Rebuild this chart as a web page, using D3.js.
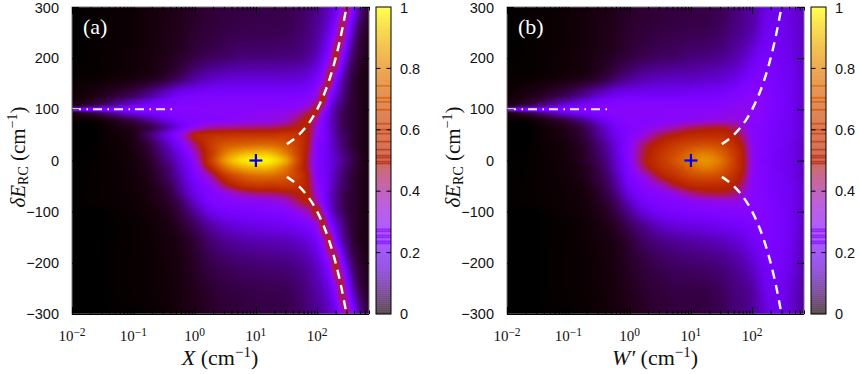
<!DOCTYPE html>
<html>
<head>
<meta charset="utf-8">
<script src="https://cdn.jsdelivr.net/npm/d3@7"></script>
<style>
  html, body { margin: 0; background: #fff; }
  svg { display: block; font-family: "Liberation Serif", serif; }
  text { fill: #111; }
</style>
</head>
<body>
<div id="chart"></div>
<script>
// Grid the maps were read on: log10 of X (or W') across, delta E_RC down.
const xExponents = [-2, -1.5, -1, -0.7, -0.4, -0.2, 0, 0.25, 0.5, 0.75, 1, 1.25, 1.5, 1.7, 1.85, 2, 2.1, 2.2, 2.3, 2.4, 2.5, 2.6, 2.7, 2.85];
const deltaRows = [316, 251, 200, 158, 126, 112, 106, 100, 94, 89, 79, 65, 50, 30, 15, 0, -15, -30, -50, -65, -79, -100, -126, -158, -200, -251, -316];

const valuesA = [
  [.000,.001,.003,.006,.012,.018,.025,.032,.038,.042,.045,.045,.048,.055,.07,.09,.105,.13,.16,.26,.46,.27,.12,.04],
  [.000,.001,.003,.007,.014,.02,.03,.038,.045,.05,.052,.052,.055,.065,.08,.105,.135,.19,.30,.48,.28,.12,.05,.02],
  [.000,.001,.004,.009,.018,.03,.045,.06,.07,.08,.082,.082,.085,.09,.105,.14,.20,.31,.50,.29,.13,.06,.03,.015],
  [.001,.003,.01,.02,.045,.075,.11,.14,.155,.16,.16,.16,.16,.165,.18,.23,.33,.50,.28,.14,.07,.035,.018,.01],
  [.003,.02,.06,.11,.18,.22,.23,.24,.24,.24,.24,.24,.24,.24,.26,.34,.50,.30,.17,.10,.055,.03,.018,.01],
  [.008,.05,.14,.20,.24,.25,.26,.27,.27,.27,.27,.27,.27,.28,.31,.42,.47,.25,.13,.08,.05,.03,.018,.01],
  [.03,.10,.20,.24,.26,.27,.27,.27,.27,.27,.27,.27,.27,.29,.34,.47,.42,.21,.12,.07,.04,.03,.018,.01],
  [.22,.25,.27,.28,.28,.28,.28,.28,.28,.28,.28,.29,.30,.33,.39,.50,.36,.19,.11,.07,.04,.03,.018,.01],
  [.03,.10,.20,.24,.26,.27,.27,.28,.28,.28,.29,.30,.31,.36,.44,.48,.31,.18,.10,.06,.04,.03,.018,.01],
  [.008,.04,.13,.19,.24,.26,.27,.27,.28,.28,.30,.31,.33,.39,.48,.45,.28,.17,.10,.06,.04,.03,.018,.01],
  [.001,.008,.05,.11,.19,.24,.26,.27,.28,.30,.31,.32,.36,.45,.50,.38,.25,.16,.10,.06,.04,.03,.018,.01],
  [.000,.002,.02,.05,.13,.22,.31,.38,.40,.41,.42,.43,.46,.50,.50,.33,.24,.16,.10,.06,.04,.03,.018,.01],
  [.000,.001,.015,.08,.20,.33,.50,.56,.58,.59,.59,.59,.60,.57,.49,.31,.24,.17,.11,.07,.05,.03,.018,.01],
  [.000,.001,.01,.05,.15,.26,.42,.60,.70,.73,.75,.75,.70,.61,.48,.27,.23,.17,.12,.08,.05,.03,.018,.01],
  [.000,.001,.008,.04,.12,.21,.36,.58,.78,.87,.90,.89,.78,.62,.46,.26,.22,.18,.13,.09,.06,.04,.02,.01],
  [.000,.001,.007,.03,.10,.18,.31,.60,.84,.95,.985,.97,.86,.64,.44,.26,.22,.18,.14,.10,.07,.04,.025,.012],
  [.000,.001,.006,.025,.08,.16,.27,.51,.74,.85,.89,.88,.77,.60,.45,.26,.22,.18,.13,.09,.06,.04,.02,.01],
  [.000,.001,.005,.02,.07,.14,.24,.38,.59,.70,.75,.75,.70,.61,.48,.27,.23,.17,.12,.08,.05,.03,.018,.01],
  [.000,.001,.004,.015,.05,.12,.20,.29,.44,.55,.59,.59,.60,.57,.49,.31,.24,.17,.11,.07,.05,.03,.018,.01],
  [.000,.001,.003,.012,.04,.10,.18,.25,.31,.38,.42,.43,.46,.50,.50,.33,.24,.16,.10,.06,.04,.03,.018,.01],
  [.000,.001,.003,.01,.03,.07,.15,.24,.27,.29,.30,.32,.36,.45,.50,.38,.25,.16,.10,.06,.04,.03,.018,.01],
  [.000,.000,.002,.006,.02,.05,.10,.18,.22,.23,.24,.25,.27,.32,.38,.50,.36,.19,.11,.07,.04,.03,.018,.01],
  [.000,.000,.001,.004,.012,.03,.06,.11,.15,.17,.18,.19,.20,.22,.25,.33,.50,.30,.17,.10,.055,.03,.018,.01],
  [.000,.000,.001,.003,.008,.016,.035,.07,.095,.11,.12,.125,.13,.145,.17,.22,.33,.50,.28,.14,.07,.035,.018,.01],
  [.000,.000,.001,.002,.006,.012,.025,.045,.06,.07,.075,.08,.085,.095,.115,.15,.21,.31,.50,.29,.13,.06,.03,.015],
  [.000,.000,.001,.002,.005,.01,.018,.03,.04,.045,.05,.052,.055,.07,.09,.115,.14,.19,.30,.48,.28,.12,.05,.02],
  [.000,.000,.000,.001,.004,.008,.014,.022,.03,.035,.04,.042,.045,.055,.075,.095,.11,.13,.16,.26,.46,.27,.12,.04]
];

const valuesB = [
  [.000,.001,.003,.006,.012,.018,.025,.03,.035,.038,.04,.042,.05,.07,.09,.11,.13,.16,.18,.18,.18,.17,.15,.13],
  [.000,.001,.003,.007,.014,.02,.03,.036,.042,.046,.05,.052,.065,.085,.10,.12,.15,.19,.20,.20,.19,.18,.16,.14],
  [.000,.001,.004,.009,.018,.03,.042,.055,.065,.07,.08,.085,.095,.115,.14,.18,.21,.22,.22,.21,.20,.19,.17,.14],
  [.001,.003,.01,.02,.045,.075,.10,.125,.135,.14,.14,.15,.16,.18,.21,.24,.25,.25,.24,.22,.21,.20,.18,.15],
  [.003,.02,.06,.11,.17,.20,.21,.21,.21,.21,.22,.22,.23,.25,.27,.28,.28,.27,.25,.23,.22,.20,.18,.15],
  [.008,.05,.14,.20,.25,.26,.26,.26,.26,.26,.26,.26,.27,.28,.29,.30,.29,.27,.25,.23,.22,.20,.18,.15],
  [.03,.10,.20,.24,.27,.27,.27,.27,.27,.27,.27,.27,.28,.29,.30,.30,.29,.27,.25,.23,.22,.20,.18,.15],
  [.22,.25,.27,.28,.28,.28,.28,.28,.28,.28,.28,.28,.29,.30,.31,.30,.29,.27,.25,.23,.22,.20,.18,.15],
  [.03,.10,.20,.24,.27,.28,.28,.28,.28,.28,.29,.29,.30,.31,.32,.30,.29,.27,.25,.23,.22,.20,.18,.15],
  [.008,.04,.13,.19,.25,.27,.28,.28,.28,.29,.29,.30,.31,.32,.31,.30,.28,.26,.25,.23,.22,.20,.18,.15],
  [.001,.008,.05,.11,.20,.25,.27,.27,.28,.29,.30,.32,.33,.34,.32,.29,.28,.26,.24,.23,.21,.20,.18,.15],
  [.000,.002,.02,.06,.15,.22,.26,.29,.33,.38,.43,.46,.47,.43,.35,.28,.27,.25,.24,.22,.21,.20,.18,.15],
  [.000,.001,.015,.05,.13,.20,.26,.34,.44,.50,.54,.55,.55,.50,.41,.29,.27,.25,.23,.22,.21,.20,.18,.15],
  [.000,.001,.01,.035,.10,.18,.28,.44,.54,.61,.66,.68,.65,.57,.47,.31,.27,.25,.23,.22,.21,.19,.17,.14],
  [.000,.001,.008,.03,.09,.17,.29,.47,.58,.66,.74,.78,.72,.61,.50,.32,.27,.25,.23,.21,.20,.19,.17,.14],
  [.000,.001,.007,.03,.08,.16,.28,.48,.59,.69,.78,.83,.76,.63,.50,.33,.26,.24,.22,.21,.20,.19,.17,.14],
  [.000,.001,.006,.02,.07,.15,.26,.44,.56,.64,.73,.78,.72,.61,.50,.32,.27,.25,.23,.21,.20,.19,.17,.14],
  [.000,.001,.005,.02,.06,.13,.24,.34,.49,.58,.65,.68,.65,.57,.47,.31,.27,.25,.23,.22,.21,.19,.17,.14],
  [.000,.001,.004,.012,.05,.11,.21,.28,.35,.46,.53,.55,.54,.50,.41,.29,.27,.25,.23,.22,.21,.20,.18,.15],
  [.000,.001,.003,.01,.04,.09,.18,.25,.28,.33,.41,.45,.46,.43,.35,.28,.27,.25,.24,.22,.21,.20,.18,.15],
  [.000,.001,.003,.008,.03,.07,.14,.22,.25,.27,.30,.32,.33,.33,.31,.28,.27,.26,.24,.23,.21,.20,.18,.15],
  [.000,.000,.002,.006,.02,.05,.10,.17,.21,.23,.24,.25,.26,.27,.27,.27,.27,.26,.25,.23,.22,.20,.18,.15],
  [.000,.000,.001,.004,.012,.03,.06,.10,.14,.165,.175,.185,.20,.21,.22,.24,.25,.25,.24,.23,.22,.20,.18,.14],
  [.000,.000,.001,.003,.008,.016,.035,.065,.085,.10,.11,.12,.13,.15,.17,.20,.22,.24,.24,.23,.22,.20,.17,.13],
  [.000,.000,.001,.002,.006,.012,.025,.04,.055,.065,.07,.075,.085,.10,.12,.15,.18,.21,.22,.22,.21,.19,.16,.12],
  [.000,.000,.001,.002,.005,.01,.018,.03,.038,.045,.045,.048,.06,.08,.09,.11,.14,.18,.20,.20,.19,.17,.14,.11],
  [.000,.000,.000,.001,.004,.008,.014,.022,.03,.035,.036,.04,.05,.07,.08,.10,.12,.15,.18,.19,.18,.16,.13,.10]
];

// Overlay curves and the marked point, same in both panels.
const curveDelta = [32, 40, 50, 63, 80, 100, 126, 158, 200, 251, 296];
const curveX = [32, 40, 50, 63, 80, 100, 126, 158, 200, 251, 296];
const stateX = [0.01, 0.5];
const stateDelta = [100, 100];
const pointX = 10;
const pointDelta = 0;

const xDecades = [0.01, 0.1, 1, 10, 100];
const yTicks = [-300, -200, -100, 0, 100, 200, 300];
const barTicks = [0, 0.2, 0.4, 0.6, 0.8, 1];
// levels where the colour bar looks more saturated in the original
const barStripes = [0.225, 0.235, 0.245, 0.255, 0.265, 0.275, 0.485, 0.495, 0.505, 0.515, 0.53, 0.56, 0.585, 0.6, 0.615, 0.66, 0.69, 0.7, 0.74];

const width = 859;
const height = 374;
const marginTop = 7;
const marginBottom = 60;
const plotWidth = 297;
const xMax = 700;

// gnuplot's default pm3d palette (rgbformulae 7,5,15)
function palette(t) {
  const b = Math.max(0, Math.sin(2 * Math.PI * t));
  return d3.rgb(255 * Math.sqrt(t), 255 * t * t * t, 255 * b);
}

const svg = d3.select("#chart").append("svg")
  .attr("width", width)
  .attr("height", height)
  .attr("viewBox", [0, 0, width, height]);

const y = d3.scaleLinear().domain([-300, 300]).range([height - marginBottom, marginTop]);
const colIndex = d3.scaleLinear().domain(xExponents).range(d3.range(xExponents.length));
const rowIndex = d3.scaleLinear().domain(deltaRows).range(d3.range(deltaRows.length));

// Catmull-Rom so the map comes out smooth like the original's interpolated pm3d.
function cubic(p0, p1, p2, p3, t) {
  return p1 + 0.5 * t * (p2 - p0 + t * (2 * p0 - 5 * p1 + 4 * p2 - p3 + t * (3 * (p1 - p2) + p3 - p0)));
}

function sampleGrid(grid, fx, fy) {
  const ix = Math.min(Math.floor(fx), xExponents.length - 2);
  const iy = Math.min(Math.floor(fy), deltaRows.length - 2);
  const at = (r, c) => grid[Math.max(0, Math.min(grid.length - 1, r))][Math.max(0, Math.min(xExponents.length - 1, c))];
  const rows = [-1, 0, 1, 2].map(dr =>
    cubic(at(iy + dr, ix - 1), at(iy + dr, ix), at(iy + dr, ix + 1), at(iy + dr, ix + 2), fx - ix));
  return Math.max(0, Math.min(1, cubic(rows[0], rows[1], rows[2], rows[3], fy - iy)));
}

function mapImage(grid, x, left) {
  const h = height - marginBottom - marginTop;
  const canvas = document.createElement("canvas");
  canvas.width = plotWidth;
  canvas.height = h;
  const ctx = canvas.getContext("2d");
  const img = ctx.createImageData(plotWidth, h);
  for (let j = 0; j < h; j++) {
    for (let i = 0; i < plotWidth; i++) {
      const fx = colIndex(Math.log10(x.invert(left + i + 0.5)));
      const fy = rowIndex(y.invert(marginTop + j + 0.5));
      const c = palette(sampleGrid(grid, fx, fy));
      const k = 4 * (j * plotWidth + i);
      img.data[k] = c.r;
      img.data[k + 1] = c.g;
      img.data[k + 2] = c.b;
      img.data[k + 3] = 255;
    }
  }
  ctx.putImageData(img, 0, 0);
  return canvas.toDataURL();
}

function axisLabel(g, px, py, anchor, size, rotate, parts) {
  const t = g.append("text")
    .attr("text-anchor", anchor)
    .attr("font-size", size)
    .attr("transform", `translate(${px},${py})` + (rotate ? " rotate(-90)" : ""));
  parts.forEach(p => {
    const s = t.append("tspan").text(p.text);
    if (p.italic) s.attr("font-style", "italic");
    if (p.dy) s.attr("dy", p.dy);
    if (p.size) s.attr("font-size", p.size);
  });
}

const cmUnit = [
  { text: " (cm" },
  { text: "\u22121", dy: -8, size: 15 },
  { text: ")", dy: 8 }
];

// the top labels would poke out of the window, so nudge them down a little
function nudgeTop(a, topValue) {
  a.selectAll(".tick").filter(d => d === topValue).select("text").attr("y", 1.3);
}

function drawPanel(left, grid, tag, xParts) {
  const right = left + plotWidth;
  const bottom = height - marginBottom;
  const x = d3.scaleLog().domain([0.01, xMax]).range([left, right]);
  const g = svg.append("g");

  g.append("image")
    .attr("x", left)
    .attr("y", marginTop)
    .attr("width", plotWidth)
    .attr("height", bottom - marginTop)
    .attr("href", mapImage(grid, x, left));

  // Overlays: dash-dotted line at 100, dashed branches, blue cross.
  const stateLine = d3.line().x((d, i) => x(stateX[i])).y((d, i) => y(stateDelta[i]));
  g.append("path")
    .attr("d", stateLine(stateX))
    .attr("fill", "none")
    .attr("stroke", "#f6eeff")
    .attr("stroke-width", 2)
    .attr("stroke-dasharray", "9 5.5 1.5 5");

  [1, -1].forEach(sign => {
    const branch = d3.line().curve(d3.curveCatmullRom)
      .x((d, i) => x(curveX[i]))
      .y((d, i) => y(sign * curveDelta[i]));
    g.append("path")
      .attr("d", branch(curveX))
      .attr("fill", "none")
      .attr("stroke", "#fff")
      .attr("stroke-width", 2.4)
      .attr("stroke-dasharray", "9 6.5");
  });

  g.append("g")
    .attr("stroke", "#0000f0")
    .attr("stroke-width", 2.2)
    .call(s => s.append("line")
      .attr("x1", x(pointX) - 6.5).attr("x2", x(pointX) + 6.5)
      .attr("y1", y(pointDelta)).attr("y2", y(pointDelta)))
    .call(s => s.append("line")
      .attr("x1", x(pointX)).attr("x2", x(pointX))
      .attr("y1", y(pointDelta) - 6.5).attr("y2", y(pointDelta) + 6.5));

  // Frame
  g.append("rect")
    .attr("x", left)
    .attr("y", marginTop)
    .attr("width", plotWidth)
    .attr("height", bottom - marginTop)
    .attr("fill", "none")
    .attr("stroke", "#777");
  g.append("line")
    .attr("x1", left).attr("x2", right)
    .attr("y1", bottom + 0.5).attr("y2", bottom + 0.5)
    .attr("stroke", "#000");

  // Ticks, drawn pointing into the map on all four sides.
  const minor = x.ticks().filter(d => !xDecades.includes(d));
  [[d3.axisBottom, bottom], [d3.axisTop, marginTop]].forEach(([axis, pos]) => {
    g.append("g").attr("transform", `translate(0,${pos})`)
      .call(axis(x).tickValues(minor).tickSize(-3.5).tickFormat(""))
      .call(a => a.select(".domain").remove());
    g.append("g").attr("transform", `translate(0,${pos})`)
      .call(axis(x).tickValues(xDecades).tickSize(-7).tickFormat(""))
      .call(a => a.select(".domain").remove());
  });
  g.append("g").attr("transform", `translate(${right},0)`)
    .call(d3.axisRight(y).tickValues(yTicks).tickSize(-7).tickFormat(""))
    .call(a => a.select(".domain").remove());

  // Y axis with its labels
  g.append("g").attr("transform", `translate(${left},0)`)
    .call(d3.axisLeft(y).tickValues(yTicks).tickSize(-7).tickPadding(13)
      .tickFormat(d => d3.format("d")(d).replace("-", "\u2212")))
    .call(a => a.select(".domain").remove())
    .call(a => a.selectAll("text").attr("font-size", 14.5).attr("font-family", null))
    .call(a => nudgeTop(a, 300));

  // Decade labels
  xDecades.forEach(d => {
    const t = g.append("text")
      .attr("x", x(d))
      .attr("y", bottom + 27)
      .attr("text-anchor", "middle")
      .attr("font-size", 15);
    t.append("tspan").text("10");
    t.append("tspan").attr("dy", -5).attr("font-size", 11.5)
      .text(String(Math.log10(d).toFixed(0)).replace("-", "\u2212"));
  });

  axisLabel(g, left - 47, 157, "middle", 21, true, [
    { text: "\u03B4E", italic: true },
    { text: "RC", dy: 3, size: 14 },
    { text: " (cm", dy: -3 },
    { text: "\u22121", dy: -8, size: 14 },
    { text: ")", dy: 8 }
  ]);
  axisLabel(g, left + 148, 365, "middle", 22, false, xParts.concat(cmUnit));

  g.append("text")
    .attr("x", left + 11)
    .attr("y", 34)
    .attr("font-size", 22)
    .style("fill", "#fff")
    .text(tag);

  // Colour bar
  const barLeft = right + 7;
  const barWidth = 15;
  const c = d3.scaleLinear().domain([0, 1]).range([bottom, marginTop]);
  const levels = d3.range(0, 1, 1 / 154);
  g.append("g").selectAll("rect")
    .data(levels)
    .join("rect")
    .attr("x", barLeft)
    .attr("width", barWidth)
    .attr("y", d => c(d) - 2)
    .attr("height", 2.2)
    .attr("fill", d => palette(d + 0.5 / 154))
    .attr("opacity", d => barStripes.some(s => Math.abs(s - d) < 0.0035) ? 0.88 : 0.66);
  g.append("rect")
    .attr("x", barLeft)
    .attr("y", marginTop)
    .attr("width", barWidth)
    .attr("height", bottom - marginTop)
    .attr("fill", "none")
    .attr("stroke", "#000");

  // Bar labels and its small dashes on either side
  g.append("g").attr("transform", `translate(${barLeft + barWidth},0)`)
    .call(d3.axisRight(c).tickValues(barTicks).tickSize(0).tickPadding(9).tickFormat(d3.format("")))
    .call(a => a.select(".domain").remove())
    .call(a => a.selectAll("text").attr("font-size", 14.5).attr("font-family", null))
    .call(a => nudgeTop(a, 1));
  const inner = barTicks.slice(1, -1);
  [barLeft, barLeft + barWidth].forEach((bx, i) => {
    g.append("g").selectAll("line")
      .data(inner)
      .join("line")
      .attr("x1", bx)
      .attr("x2", bx + (i ? -4.5 : 4.5))
      .attr("y1", d => c(d))
      .attr("y2", d => c(d))
      .attr("stroke", "#000");
  });
}

drawPanel(72, valuesA, "(a)", [{ text: "X", italic: true }]);
drawPanel(507, valuesB, "(b)", [{ text: "W\u2032", italic: true }]);
</script>
</body>
</html>
